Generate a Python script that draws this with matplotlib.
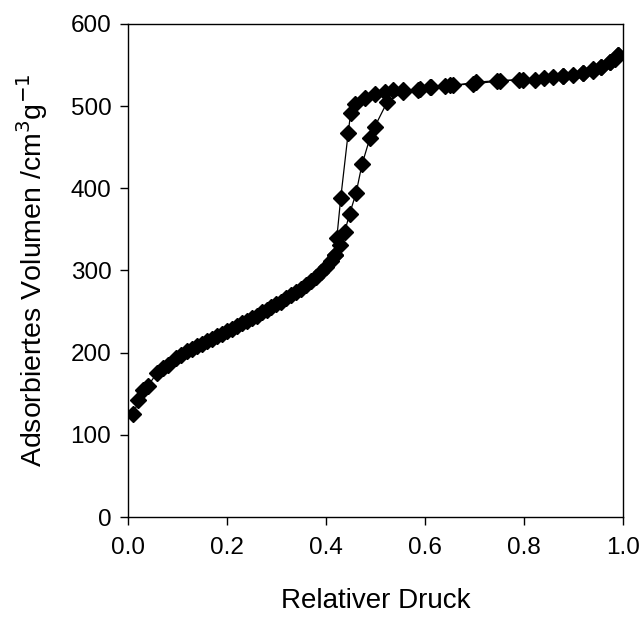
import matplotlib
matplotlib.use("Agg")
import matplotlib.pyplot as plt

plt.rcParams['font.family'] = ['Liberation Sans', 'DejaVu Sans']

# adsorption branch
p_ads = [0.011, 0.021, 0.031, 0.041, 0.058, 0.071, 0.08, 0.098, 0.108,
         0.12, 0.13, 0.14, 0.15, 0.16, 0.17, 0.18, 0.19, 0.20, 0.21, 0.22,
         0.23, 0.24, 0.25, 0.26, 0.27, 0.28, 0.29, 0.30, 0.31, 0.32, 0.33,
         0.34, 0.35, 0.36, 0.37, 0.38, 0.39, 0.40, 0.41, 0.418, 0.428,
         0.438, 0.448, 0.461, 0.473, 0.489, 0.499, 0.524, 0.556, 0.59,
         0.613, 0.657, 0.704, 0.751, 0.799, 0.84, 0.88, 0.92, 0.94, 0.957,
         0.974, 0.985, 0.99]
v_ads = [125, 142, 154, 160, 175, 181, 185, 193, 197,
         202, 205, 208, 211, 214, 217, 220, 223, 226, 229, 232,
         236, 239, 242, 245, 249, 252, 255, 259, 262, 266, 270,
         274, 278, 282, 287, 292, 298, 304, 312, 319, 331,
         347, 369, 394, 429, 461, 475, 505, 517, 521,
         523, 525, 529, 531, 532, 534, 536, 540, 543, 547,
         553, 557, 562]

# desorption branch
p_des = [0.99, 0.974, 0.957, 0.94, 0.92, 0.90, 0.88, 0.86, 0.822, 0.79,
         0.745, 0.698, 0.65, 0.64, 0.61, 0.586, 0.556, 0.536, 0.519, 0.499,
         0.479, 0.459, 0.45, 0.445, 0.43, 0.422, 0.418]
v_des = [562, 554, 548, 545, 540, 538, 537, 535, 532, 532,
         530, 527, 525, 524, 523, 520, 519, 519, 517, 514,
         510, 503, 491, 467, 388, 339, 319]

fig = plt.figure(figsize=(6.4, 6.26), dpi=100)
ax = fig.add_axes([0.2, 0.174, 0.773, 0.788])

ax.plot(p_ads, v_ads, color='black', lw=0.9, marker='D', ms=8, mec='black', mfc='black')
ax.plot(p_des, v_des, color='black', lw=0.9, marker='D', ms=8, mec='black', mfc='black')

ax.set_xlim(0, 1.0)
ax.set_ylim(0, 600)
ax.set_xticks([0.0, 0.2, 0.4, 0.6, 0.8, 1.0])
ax.set_xticklabels(['0.0', '0.2', '0.4', '0.6', '0.8', '1.0'])
ax.set_yticks([0, 100, 200, 300, 400, 500, 600])
ax.tick_params(direction='out', length=6, width=1, labelsize=17.5)
ax.tick_params(axis='x', pad=8)
ax.tick_params(axis='y', pad=6)
for s in ax.spines.values():
    s.set_linewidth(1)

ax.set_xlabel('Relativer Druck', fontsize=20, labelpad=21)
ax.set_ylabel('Adsorbiertes Volumen /cm$^3$g$^{-1}$', fontsize=20.5, labelpad=15)

fig.savefig('out.png', dpi=100)
